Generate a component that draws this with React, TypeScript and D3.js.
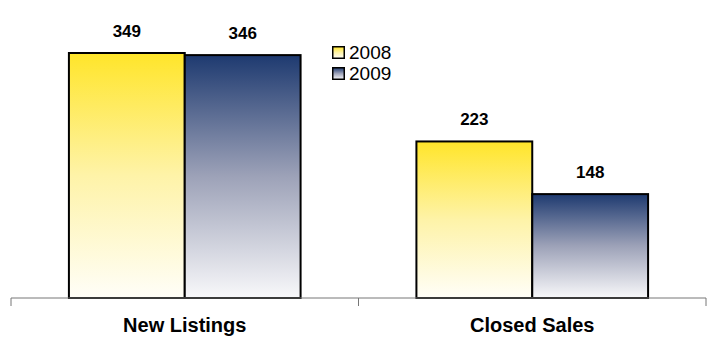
import React from "react";
import * as d3 from "d3";

const categories = ["New Listings", "Closed Sales"];
const seriesNames = ["2008", "2009"];
const values2008 = [349, 223];
const values2009 = [346, 148];

const width = 713;
const height = 339;
const margin = { left: 11, right: 7, top: 53, bottom: 41 };
const baseY = height - margin.bottom;

export default function App() {
  const x = d3
    .scaleBand<string>()
    .domain(categories)
    .range([margin.left, width - margin.right])
    .paddingInner(0)
    .paddingOuter(0);
  const y = d3.scaleLinear().domain([0, 349]).range([baseY, margin.top]);
  const inner = d3
    .scaleBand<string>()
    .domain(seriesNames)
    .range([0, x.bandwidth()])
    .paddingOuter(0.5)
    .paddingInner(0);

  const series = [
    { name: seriesNames[0], values: values2008, grad: "g2008" },
    { name: seriesNames[1], values: values2009, grad: "g2009" },
  ];
  const ticks = [margin.left, ...categories.map((c) => (x(c) as number) + x.bandwidth())];

  return (
    <svg
      width={width}
      height={height}
      style={{ position: "absolute", left: 0, top: 0, fontFamily: "Arial, 'Liberation Sans', sans-serif" }}
    >
      <defs>
        <linearGradient id="g2008" x1="0" y1="0" x2="0" y2="1">
          <stop offset="0" stopColor="#FFE52A" />
          <stop offset="0.5" stopColor="#FEF3A8" />
          <stop offset="1" stopColor="#FFFEF8" />
        </linearGradient>
        <linearGradient id="g2009" x1="0" y1="0" x2="0" y2="1">
          <stop offset="0" stopColor="#1E3A70" />
          <stop offset="0.5" stopColor="#9DA2B8" />
          <stop offset="1" stopColor="#F8F8FA" />
        </linearGradient>
      </defs>
      <rect width={width} height={height} fill="#fff" />
      {series.map((s) =>
        categories.map((c, i) => {
          const bx = (x(c) as number) + (inner(s.name) as number);
          const by = y(s.values[i]);
          return (
            <g key={s.name + c}>
              <rect
                x={bx}
                y={by}
                width={inner.bandwidth()}
                height={baseY - by}
                fill={`url(#${s.grad})`}
                stroke="#000"
                strokeWidth={2}
              />
              <text
                x={bx + inner.bandwidth() / 2}
                y={by - 16}
                textAnchor="middle"
                fontSize={17}
                fontWeight="bold"
                fill="#000"
              >
                {s.values[i]}
              </text>
            </g>
          );
        })
      )}
      <line x1={margin.left} x2={width - margin.right} y1={baseY} y2={baseY} stroke="#777" strokeWidth={1} />
      {ticks.map((t, i) => (
        <line key={i} x1={t} x2={t} y1={baseY} y2={baseY + 8} stroke="#777" strokeWidth={1} />
      ))}
      {categories.map((c) => (
        <text
          key={c}
          x={(x(c) as number) + x.bandwidth() / 2}
          y={baseY + 34}
          textAnchor="middle"
          fontSize={20}
          fontWeight="bold"
          fill="#000"
        >
          {c}
        </text>
      ))}
      {series.map((s, i) => (
        <g key={s.name} transform={`translate(332, ${46 + i * 21})`}>
          <rect x={0.75} y={0.75} width={11.5} height={11.5} fill={`url(#${s.grad})`} stroke="#000" strokeWidth={1.5} />
          <text x={17} y={13} fontSize={19} fill="#000">
            {s.name}
          </text>
        </g>
      ))}
    </svg>
  );
}
